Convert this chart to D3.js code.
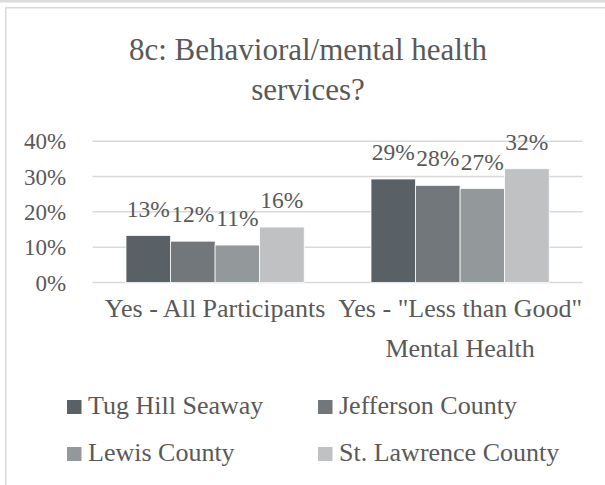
<!DOCTYPE html>
<html>
<head>
<meta charset="utf-8">
<script src="https://cdn.jsdelivr.net/npm/d3@7"></script>
<style>
  html, body { margin: 0; padding: 0; background: #fff; }
  svg { display: block; }
  text { font-family: "Liberation Serif", "Times New Roman", serif; fill: #595959; }
</style>
</head>
<body>
<svg id="chart" width="605" height="485"></svg>
<script>
// Survey question 8c, share answering "Yes", by region
const categories = ["Yes - All Participants", "Yes - \"Less than Good\" Mental Health"];
const categoryLines = [["Yes - All Participants"], ["Yes - \"Less than Good\"", "Mental Health"]];
const seriesNames = ["Tug Hill Seaway", "Jefferson County", "Lewis County", "St. Lawrence County"];
const tugHill = [0.133, 0.293];
const jefferson = [0.117, 0.275];
const lewis = [0.106, 0.266];
const stLawrence = [0.157, 0.322];
const seriesColors = ["#596066", "#71777b", "#93989a", "#bfc1c3"];
const yTicks = [0, 0.1, 0.2, 0.3, 0.4];
const titleLines = ["8c: Behavioral/mental health", "services?"];

const seriesValues = [tugHill, jefferson, lewis, stLawrence];
const svg = d3.select("#chart");

// outer frame
svg.append("rect").attr("x", 0).attr("y", 0).attr("width", 605).attr("height", 2.5).attr("fill", "#dcdcdc");
svg.append("rect").attr("x", 5.75).attr("y", 7.75).attr("width", 640).attr("height", 520)
  .attr("fill", "#fff").attr("stroke", "#d9d9d9").attr("stroke-width", 1.5);

// title
svg.append("text")
  .attr("x", 308).attr("y", 60)
  .attr("text-anchor", "middle")
  .style("font-size", "31px")
  .selectAll("tspan").data(titleLines).join("tspan")
  .attr("x", 308).attr("dy", (d, i) => i === 0 ? 0 : 39.5)
  .text(d => d);

const plotLeft = 92.6, plotRight = 582.6;
const y = d3.scaleLinear().domain([0, 0.4]).range([282.5, 141.2]);
const x0 = d3.scaleBand().domain(categories).range([plotLeft, plotRight])
  .paddingInner(1.5 / 5.5).paddingOuter(0.75 / 5.5);
const x1 = d3.scaleBand().domain(seriesNames).range([0, x0.bandwidth()]);
const color = d3.scaleOrdinal().domain(seriesNames).range(seriesColors);

// gridlines
svg.append("g").selectAll("line").data(yTicks).join("line")
  .attr("x1", plotLeft).attr("x2", plotRight)
  .attr("y1", d => y(d)).attr("y2", d => y(d))
  .attr("stroke", "#d9d9d9").attr("stroke-width", 1.5);

// y axis labels
const yAxis = svg.append("g").attr("transform", `translate(${plotLeft},0)`)
  .call(d3.axisLeft(y).tickValues(yTicks).tickFormat(d3.format(".0%")).tickSize(0).tickPadding(26.5));
yAxis.select(".domain").remove();
yAxis.selectAll("text")
  .attr("dy", "0.33em")
  .style("font-size", "23px").style("font-family", "Liberation Serif, serif").attr("fill", "#595959");

// bars
const groups = svg.append("g").selectAll("g").data(categories).join("g")
  .attr("transform", d => `translate(${x0(d)},0)`);

groups.selectAll("rect")
  .data((c, ci) => seriesNames.map((s, si) => ({ s, v: seriesValues[si][ci] })))
  .join("rect")
  .attr("x", d => x1(d.s))
  .attr("width", x1.bandwidth())
  .attr("y", d => y(d.v))
  .attr("height", d => y(0) - y(d.v))
  .attr("fill", d => color(d.s))
  .attr("stroke", "#ffffff").attr("stroke-width", 0.75);

// value labels
groups.selectAll("text.value")
  .data((c, ci) => seriesNames.map((s, si) => ({ s, v: seriesValues[si][ci] })))
  .join("text")
  .attr("class", "value")
  .attr("x", d => x1(d.s) + x1.bandwidth() / 2)
  .attr("y", d => y(d.v) - 19)
  .attr("text-anchor", "middle")
  .style("font-size", "23.5px")
  .text(d => d3.format(".0%")(d.v));

// category axis labels
const xAxis = svg.append("g").attr("transform", `translate(0,${y(0)})`)
  .call(d3.axisBottom(x0).tickSize(0).tickFormat(""));
xAxis.select(".domain").remove();
xAxis.selectAll(".tick").each(function (d, i) {
  const t = d3.select(this).append("text")
    .attr("y", 34).attr("text-anchor", "middle")
    .style("font-size", "26px").attr("fill", "#595959");
  t.selectAll("tspan").data(categoryLines[i]).join("tspan")
    .attr("x", 0).attr("dy", (l, j) => j === 0 ? 0 : 40)
    .text(l => l);
});

// legend
const legendPos = [[67, 414], [318, 414], [67, 461], [318, 461]];
const legend = svg.append("g").selectAll("g").data(seriesNames).join("g")
  .attr("transform", (d, i) => `translate(${legendPos[i][0]},${legendPos[i][1]})`);
legend.append("rect").attr("x", 0).attr("y", -14).attr("width", 14.5).attr("height", 14)
  .attr("fill", d => color(d));
legend.append("text").attr("x", 21).attr("y", 0)
  .style("font-size", "26px").text(d => d);
</script>
</body>
</html>
